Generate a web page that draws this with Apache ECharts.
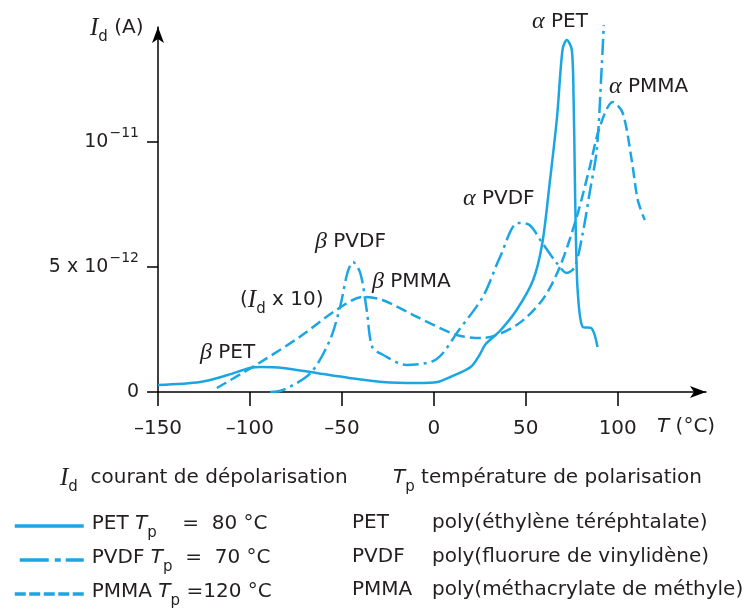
<!DOCTYPE html>
<html>
<head>
<meta charset="utf-8">
<script src="https://cdn.jsdelivr.net/npm/echarts@6/dist/echarts.min.js"></script>
<style>
html,body{margin:0;padding:0;background:#fff;}
#chart{width:748px;height:610px;}
</style>
</head>
<body>
<div id="chart"></div>
<script>
// ---- data (T in °C, I_d in units of 1e-12 A) ----
const PET_T  = [-150,-127,-112,-100,-94,-82,-64,-46,-28,-9,2,9,20,25,28,36,45,54,59,63,67,70,72.3,75,76,76.6,77.2,78.3,81,85.6,89];
const PET_I  = [0.28,0.4,0.68,0.96,1.0,0.96,0.76,0.56,0.4,0.36,0.4,0.6,1.0,1.5,1.9,2.45,3.28,4.48,5.96,8.36,11.0,13.7,14.08,13.7,11.7,9.0,6.36,3.96,2.6,2.56,1.8];
const PVDF_T = [-89,-82,-67,-56.5,-51,-47,-44,-40,-36.5,-33.5,-28,-15,-1,5,12.5,26.6,36,45.7,52,59,66.8,72.3,76.6,81,84.8,88.6,91.3,92.4];
const PVDF_I = [0,0.08,0.76,2.08,3.4,4.76,5.2,4.76,3.28,1.8,1.5,1.08,1.22,1.56,2.36,3.8,5.4,6.76,6.68,5.96,5.16,4.76,5.0,6.36,8.0,9.68,13.0,14.68];
const PMMA_T = [-118,-95,-73,-53,-38.6,-28,-9,12.5,26.6,45,59,68.5,77.7,84.8,90.2,97.3,102.7,107.6,110.9,114.7];
const PMMA_I = [0.16,1.16,2.2,3.28,3.8,3.68,3.0,2.28,2.16,2.68,3.68,5.0,7.0,9.0,10.6,11.6,11.16,9.28,7.68,6.88];

const X_TICKS = [-150,-100,-50,0,50,100];
const Y_TICKS = [0,5,10];
const Y_TICK_BASE = ['0','5 x 10','10'];
const Y_TICK_EXP  = ['','\u221212','\u221211'];

const SERIES_NAMES = ['PET','PVDF','PMMA'];
const TP_VALUES = ['80','70','120'];
const FULL_NAMES = ['poly(éthylène téréphtalate)','poly(fluorure de vinylidène)','poly(méthacrylate de méthyle)'];

// ---- styles ----
const COLOR = '#1ba6e3';
const TEXT = '#231f20';
const SANS = "'DejaVu Sans', sans-serif";
const SERIF = "'Liberation Serif', 'DejaVu Serif', serif";

function zip(a, b) { return a.map((v, i) => [v, b[i]]); }

const chart = echarts.init(document.getElementById('chart'), null, {renderer: 'canvas'});

const G_RICH = {
  n:  {fontFamily: SANS, fontSize: 20, fill: TEXT, verticalAlign: 'top'},
  ti: {fontFamily: SANS, fontSize: 20, fill: TEXT, fontStyle: 'italic', verticalAlign: 'top'},
  g:  {fontFamily: SERIF, fontSize: 24, fill: TEXT, fontStyle: 'italic', verticalAlign: 'top', padding: [-2,0,0,0]},
  gi: {fontFamily: SERIF, fontSize: 25, fill: TEXT, fontStyle: 'italic', verticalAlign: 'top', padding: [-2,0,0,0]},
  s:  {fontFamily: SANS, fontSize: 15, fill: TEXT, verticalAlign: 'top', padding: [12,0,0,0]}
};
function txt(x, cy, text) {
  return {type: 'text', x: x, y: cy - 10, silent: true,
    style: {text: text, rich: G_RICH, align: 'left', verticalAlign: 'top', fill: TEXT}};
}

const graphics = [
  // axis names
  txt(90, 28, '{gi|I}{s|d}{n| (A)}'),
  txt(657, 427, '{ti|T}{n| (°C)}'),
  // peak annotations
  txt(532, 22, '{g|\u03b1}{n| PET}'),
  txt(609, 87, '{g|\u03b1}{n| PMMA}'),
  txt(463, 199, '{g|\u03b1}{n| PVDF}'),
  txt(315, 242, '{g|\u03b2}{n| PVDF}'),
  txt(372, 282, '{g|\u03b2}{n| PMMA}'),
  txt(240, 300, '{n|(}{gi|I}{s|d}{n| x 10)}'),
  txt(200, 353, '{g|\u03b2}{n| PET}'),
  // explanation
  txt(60, 478, '{gi|I}{s|d}{n|  courant de dépolarisation}'),
  txt(393, 478, '{ti|T}{s|p}{n| température de polarisation}')
];
const ROW_Y = [523, 557, 590];
SERIES_NAMES.forEach((nm, i) => {
  graphics.push(txt(352, ROW_Y[i], '{n|' + nm + '}'));
  graphics.push(txt(432, ROW_Y[i], '{n|' + FULL_NAMES[i] + '}'));
});

const LEGEND_TEXT = {
  PET:  '{n|PET }{t|T}{s|p}{n|    =  ' + TP_VALUES[0] + ' °C}',
  PVDF: '{n|PVDF }{t|T}{s|p}{n|  =  ' + TP_VALUES[1] + ' °C}',
  PMMA: '{n|PMMA }{t|T}{s|p}{n| =' + TP_VALUES[2] + ' °C}'
};
const LEGEND_DASH = ['solid', [0,5,29,6,6,5,40,100], [11,3.5]];

const lineTypes = ['solid', [16,5,3,5], [11,5]];
const datasets = [zip(PET_T, PET_I), zip(PVDF_T, PVDF_I), zip(PMMA_T, PMMA_I)];

const option = {
  animation: false,
  backgroundColor: '#fff',
  grid: {left: 158, right: 42, top: 27, bottom: 218, containLabel: false, outerBoundsMode: 'none'},
  xAxis: {
    type: 'value', min: -150, max: 148,
    axisLine: {show: true, onZero: false, symbol: ['none','arrow'], symbolSize: [9,16], lineStyle: {color: '#000', width: 1.5}},
    axisTick: {show: true, length: 14, customValues: X_TICKS, lineStyle: {color: '#000', width: 1.5}},
    axisLabel: {customValues: X_TICKS, margin: 27, fontSize: 20, fontFamily: SANS, color: TEXT,
      formatter: v => (v < 0 ? '\u2013' + Math.abs(v) : String(v))},
    splitLine: {show: false}
  },
  yAxis: {
    type: 'value', min: 0, max: 14.6,
    axisLine: {show: true, onZero: false, symbol: ['none','arrow'], symbolSize: [9,16], lineStyle: {color: '#000', width: 1.5}},
    axisTick: {show: true, length: 11, customValues: Y_TICKS, lineStyle: {color: '#000', width: 1.5}},
    axisLabel: {customValues: Y_TICKS, margin: 19,
      formatter: v => {
        const i = Y_TICKS.indexOf(v);
        if (i < 0) return '';
        return '{n|' + Y_TICK_BASE[i] + '}' + (Y_TICK_EXP[i] ? '{sup|' + Y_TICK_EXP[i] + '}' : '');
      },
      rich: {
        n: {fontSize: 19, fontFamily: SANS, color: TEXT, verticalAlign: 'top', padding: [6,0,6,0]},
        sup: {fontSize: 14, fontFamily: SANS, color: TEXT, verticalAlign: 'top', padding: [0,0,0,1]}
      }
    },
    splitLine: {show: false}
  },
  legend: {
    orient: 'vertical', left: 13, top: 514, padding: 0,
    itemWidth: 69, itemHeight: 14, itemGap: 7,
    itemStyle: {opacity: 0},
    selectedMode: false,
    data: SERIES_NAMES.map((nm, i) => ({name: nm, lineStyle: {width: 3.5, type: LEGEND_DASH[i], cap: 'butt'}})),
    formatter: name => LEGEND_TEXT[name],
    textStyle: {
      color: TEXT, fontFamily: SANS, fontSize: 20, padding: [0,0,0,3],
      rich: {
        n: {fontFamily: SANS, fontSize: 20, color: TEXT, verticalAlign: 'top', padding: [3,0,0,0]},
        t: {fontFamily: SANS, fontSize: 20, color: TEXT, fontStyle: 'italic', verticalAlign: 'top', padding: [3,0,0,0]},
        s: {fontFamily: SANS, fontSize: 15, color: TEXT, verticalAlign: 'top', padding: [15,0,0,0]}
      }
    }
  },
  graphic: graphics,
  series: SERIES_NAMES.map((nm, i) => ({
    name: nm, type: 'line', data: datasets[i], symbol: 'none', smooth: 0.3, clip: false, silent: true,
    lineStyle: {color: COLOR, width: 2.5, type: lineTypes[i]},
    itemStyle: {color: COLOR}
  }))
};
chart.setOption(option);
</script>
</body>
</html>
